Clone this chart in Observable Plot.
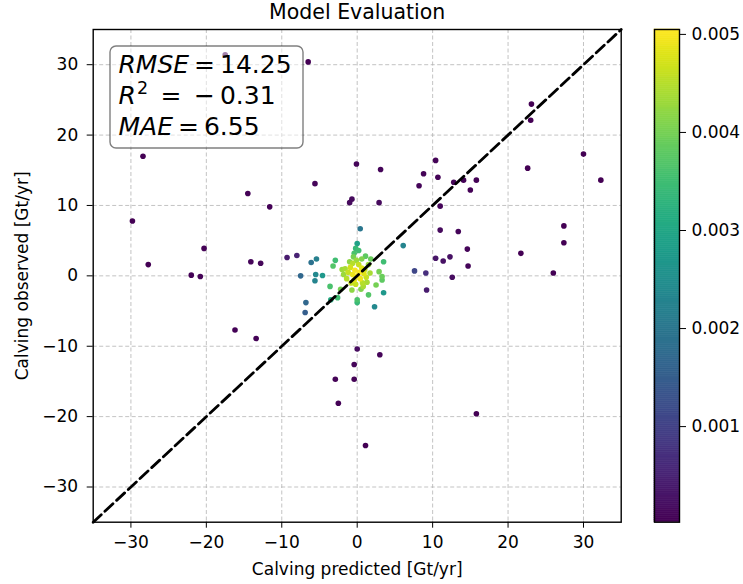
<!DOCTYPE html>
<html><head><meta charset="utf-8">
<script src="https://cdn.jsdelivr.net/npm/d3@7"></script>
<script src="https://cdn.jsdelivr.net/npm/@observablehq/plot@0.6"></script>
<style>
body{margin:0;background:#fff;}
#wrap{position:relative;width:743px;height:584px;background:#fff;}
#wrap svg{position:absolute;top:0;}
</style></head><body><div id="wrap"></div>
<script>
// ---- data ----
const predicted = [
  -17.5, -6.5, -28.4, -0.1, -5.6, -14.5, -11.6, -1.0, -0.7, -29.8,
  -27.7, -22.0, -20.8, -20.3, -14.1, -12.8, -16.2, -13.4, 2.9, 11.0,
  11.0, -9.3, -8.0, 9.1, 7.6, 9.2, 10.4, 11.4, 12.3, 12.6,
  0.0, 3.0, -0.4, -0.4, -2.9, -2.5, 1.1, 15.8, 23.1, 23.0,
  30.0, 22.6, 32.3, 3.1, 10.4, 8.8, 10.7, 8.2, 12.8, 14.1,
  15.8, 15.0, 13.4, 14.6, 14.7, 21.7, 27.4, 27.4, 26.0,
  -7.5, -6.1, -5.4, -5.5, -5.6, -4.6, -6.8, -6.9, 0.4, 6.1,
  3.5, 2.3, 0.0,
  -0.4, 0.2, -0.2, 1.1, 1.8, 3.5, -2.9, -3.2, -2.0, 2.9,
  3.3, 3.3, -3.6, -2.6, -3.5, -0.7, 0.0, 0.0, 1.5, 1.3,
  2.5, 0.5, -2.2,
  -1.2, -0.9, -0.6, -0.3, 0.0, 0.3, 0.6, 0.9, -0.4, 0.4,
  1.2, -1.4, -0.8, 0.2, -0.2, 1.0, -1.6, 0.7, -0.1, 1.5,
  -1.0, -0.5, 0.6, -1.8, 1.7, -0.6, 0.8
];
const observed = [
  31.4, 30.4, 17.0, 15.9, 13.1, 11.7, 9.8, 10.4, 10.9, 7.8,
  1.6, 0.1, -0.1, 3.9, 2.0, 1.8, -7.7, -8.9, 10.4, 9.9,
  6.5, 2.6, 2.9, 0.4, 0.7, -2.0, 2.5, 2.1, 2.7, -0.2,
  -10.4, -11.2, -12.6, -14.7, -14.7, -18.1, -24.1, -19.6, 24.4, 22.1,
  17.3, 15.3, 13.6, 15.1, 16.4, 14.5, 14.0, 12.8, 13.3, 13.6,
  13.6, 12.2, 6.3, 3.8, 1.4, 3.2, 7.1, 4.7, 0.4,
  0.0, 1.9, 2.4, 0.2, -0.7, 0.05, -3.8, -5.2, 6.7, 4.3,
  -2.4, -4.4, 4.6,
  3.2, 3.6, 3.9, 2.8, 2.4, 2.0, 2.2, 1.4, 0.9, 0.6,
  -0.1, -0.6, -1.5, -3.1, -3.4, -2.0, -3.4, -3.8, -2.7, -0.9,
  -1.3, -1.9, -1.9,
  0.5, 1.2, 0.2, 0.8, 0.0, 0.5, 1.1, 0.3, -0.6, -0.4,
  -0.2, -0.4, -1.0, 1.6, -1.2, 0.9, 1.0, -1.0, 2.2, 1.6,
  2.0, 2.7, 2.4, 0.2, 0.4, 1.8, -1.5
];
const density = [
  0.00005, 0.000025, 0.000025, 0.0001, 0.0001, 0.00005, 0.00006, 0.00015, 0.00015, 0.000025,
  0.00004, 0.00006, 0.00007, 0.00006, 0.0001, 0.00012, 0.00005, 0.00005, 0.00015, 0.0001,
  0.00015, 0.0004, 0.0005, 0.0007, 0.0011, 0.0004, 0.0003, 0.00025, 0.00025, 0.0002,
  0.0002, 0.0001, 0.0001, 0.00008, 0.00008, 0.00005, 0.000025, 0.000025, 0.000025, 0.00003,
  0.000025, 0.00004, 0.000025, 0.0001, 0.00007, 0.00008, 0.00008, 0.0001, 0.00007, 0.00006,
  0.00005, 0.00006, 0.0001, 0.0001, 0.0001, 0.00004, 0.00003, 0.00003, 0.00003,
  0.0017, 0.0019, 0.0022, 0.0024, 0.0023, 0.0027, 0.0017, 0.0015, 0.0020, 0.0023,
  0.0027, 0.0024, 0.0029,
  0.0036, 0.0035, 0.0034, 0.0038, 0.0039, 0.0035, 0.0035, 0.0037, 0.0043, 0.0040,
  0.0039, 0.0038, 0.0036, 0.0035, 0.0031, 0.0042, 0.0036, 0.0034, 0.0037, 0.0044,
  0.0040, 0.0041, 0.0040,
  0.0046, 0.0047, 0.0049, 0.0050, 0.00505, 0.0050, 0.0048, 0.0048, 0.0048, 0.0049,
  0.0046, 0.0045, 0.0046, 0.0046, 0.0046, 0.0046, 0.0044, 0.0045, 0.0043, 0.0043,
  0.0042, 0.0040, 0.0041, 0.0043, 0.0044, 0.0045, 0.0044
];
const axisTicks = [-30, -20, -10, 0, 10, 20, 30];
const axisDomain = [-35, 35];
const colorTicks = [0.001, 0.002, 0.003, 0.004, 0.005];
const colorDomain = [0.000025, 0.00505];
const titleText = "Model Evaluation";
const xLabel = "Calving predicted [Gt/yr]";
const yLabel = "Calving observed [Gt/yr]";
const statNames = ["RMSE", "R", "MAE"];
const statSups = ["", "2", ""];
const statValues = ["14.25", "\u2212\u20090.31", "6.55"];

// ---- build ----
const font = "'DejaVu Sans', 'Liberation Sans', sans-serif";
const W = 743, H = 584, mL = 92.7, mR = 122.3, mT = 29, mB = 62.3;
const points = d3.sort(predicted.map((x, i) => ({x, y: observed[i], d: density[i]})), p => p.d);
const diag = axisDomain.map(v => ({v}));
const minus = d => d < 0 ? "\u2212" + Math.abs(d) : String(d);
const colorOpts = {type: "linear", scheme: "viridis", domain: colorDomain};

const main = Plot.plot({
  width: W, height: H,
  marginLeft: mL, marginRight: mR, marginTop: mT, marginBottom: mB,
  style: `font-family:${font};font-size:17px;color:#000;background:transparent;overflow:visible;`,
  x: {domain: axisDomain},
  y: {domain: axisDomain},
  color: colorOpts,
  marks: [
    Plot.gridX(axisTicks, {stroke: "#b0b0b0", strokeOpacity: 0.85, strokeWidth: 0.9, strokeDasharray: "4,2.5"}),
    Plot.gridY(axisTicks, {stroke: "#b0b0b0", strokeOpacity: 0.85, strokeWidth: 0.9, strokeDasharray: "4,2.5"}),
    Plot.dot(points, {x: "x", y: "y", fill: "d", r: 2.8}),
    Plot.line(diag, {x: "v", y: "v", stroke: "black", strokeWidth: 2.8, strokeDasharray: "11,5"}),
    Plot.frame({stroke: "black", strokeWidth: 1.4}),
    Plot.axisX(axisTicks, {tickSize: 6, tickPadding: 8, fontSize: 17, tickFormat: minus,
      label: xLabel, labelAnchor: "center", labelOffset: 53, labelArrow: "none"}),
    Plot.axisY(axisTicks, {tickSize: 6, tickPadding: 9, fontSize: 17, tickFormat: minus,
      label: yLabel, labelAnchor: "center", labelOffset: 77, labelArrow: "none"}),
    Plot.text([titleText], {frameAnchor: "top", dy: -17, lineAnchor: "middle", fontSize: 20.5, fill: "black"})
  ]
});

// stats box (annotation, placed relative to the frame)
const svg = d3.select(main);
const bx = mL + 17.3, by = mT + 17, bw = 193, bh = 102;
const g = svg.append("g").attr("font-family", font).attr("font-size", 25)
  .attr("fill", "black").attr("text-anchor", "start");
g.append("rect").attr("x", bx).attr("y", by).attr("width", bw).attr("height", bh)
  .attr("rx", 6).attr("ry", 6)
  .attr("fill", "white").attr("fill-opacity", 0.5)
  .attr("stroke", "black").attr("stroke-opacity", 0.5).attr("stroke-width", 1.4);
const baselines = [by + 27.3, by + 58, by + 89];
statNames.forEach((name, i) => {
  const t = g.append("text").attr("x", bx + 8.5).attr("y", baselines[i]).attr("text-anchor", "start");
  t.append("tspan").attr("font-style", "italic").text(name);
  if (statSups[i]) {
    t.append("tspan").attr("font-size", 17.5).attr("dy", -10).attr("dx", 1).text(statSups[i]);
    t.append("tspan").attr("dy", 10).text("\u2002=\u2002" + statValues[i]);
  } else {
    t.append("tspan").text("\u2009=\u2009" + statValues[i]);
  }
});

// colorbar
const cbLeft = 654, cbW = 25;
const steps = d3.range(240).map(i => {
  const a = colorDomain[0] + (colorDomain[1] - colorDomain[0]) * i / 240;
  const b = colorDomain[0] + (colorDomain[1] - colorDomain[0]) * (i + 1) / 240;
  return {a, b, m: (a + b) / 2};
});
const cb = Plot.plot({
  width: W - cbLeft, height: H,
  marginLeft: 0, marginRight: W - cbLeft - cbW, marginTop: mT, marginBottom: mB,
  style: `font-family:${font};font-size:17px;color:#000;background:transparent;overflow:visible;`,
  x: {domain: [0, 1], axis: null},
  y: {domain: colorDomain},
  color: colorOpts,
  marks: [
    Plot.rect(steps, {x1: 0, x2: 1, y1: "a", y2: "b", fill: "m", stroke: "m", strokeWidth: 0.6}),
    Plot.frame({stroke: "black", strokeWidth: 1.4}),
    Plot.axisY(colorTicks, {anchor: "right", tickSize: 6, tickPadding: 6, fontSize: 17,
      tickFormat: d3.format(".3f"), label: null})
  ]
});
cb.style.left = cbLeft + "px";
main.style.left = "0px";
document.getElementById("wrap").append(main, cb);
</script></body></html>
